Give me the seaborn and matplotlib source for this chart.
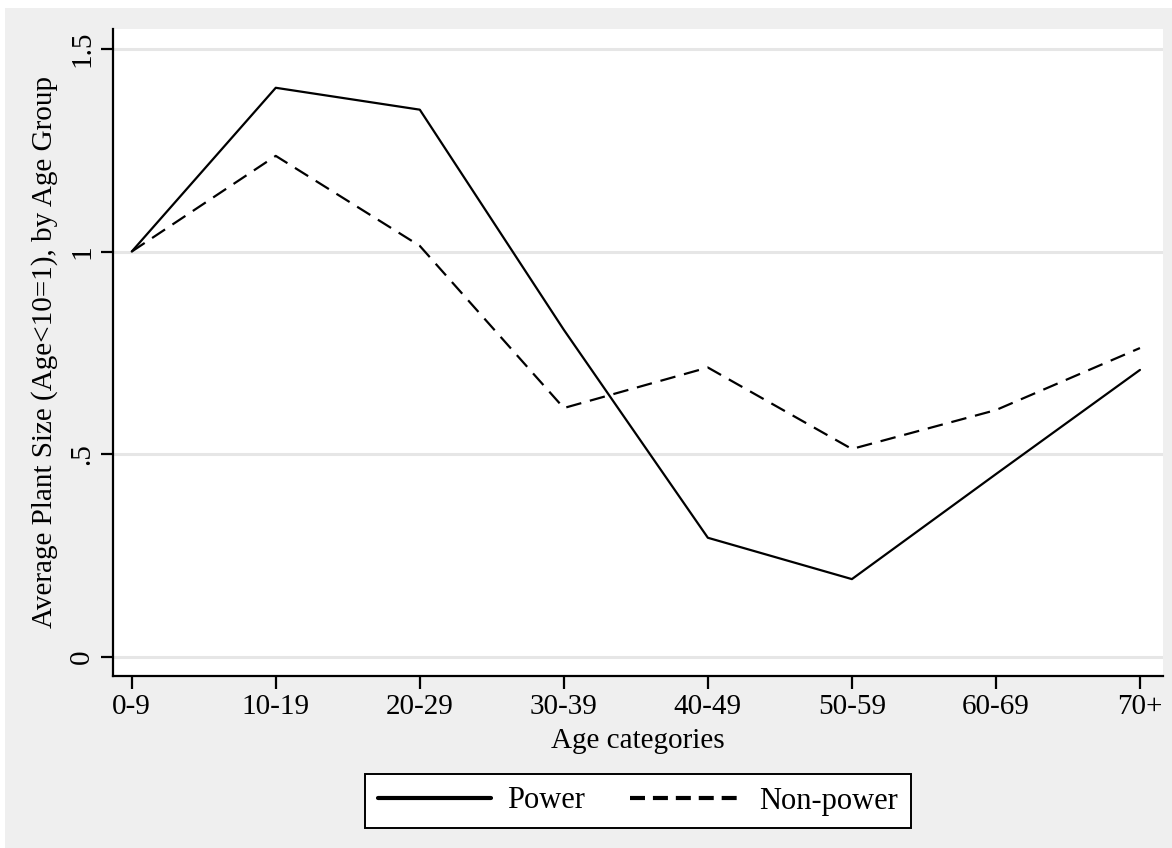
import matplotlib
matplotlib.use("Agg")
import matplotlib.pyplot as plt
from matplotlib.patches import Rectangle
from matplotlib.lines import Line2D
import seaborn as sns
import pandas as pd

# Age groups on the horizontal axis
age_groups = ["0-9", "10-19", "20-29", "30-39", "40-49", "50-59", "60-69", "70+"]

# Average plant size relative to the youngest group (Age<10 = 1)
power = [1.00, 1.404, 1.35, 0.807, 0.294, 0.192, 0.451, 0.708]
non_power = [1.00, 1.236, 1.014, 0.614, 0.714, 0.513, 0.609, 0.762]

series_names = ["Power", "Non-power"]
y_ticks = [0, 0.5, 1, 1.5]
y_tick_labels = ["0", ".5", "1", "1.5"]

pos = list(range(len(age_groups)))
df = pd.DataFrame({
    "pos": pos * 2,
    "value": power + non_power,
    "series": [series_names[0]] * len(pos) + [series_names[1]] * len(pos),
})

sns.set_theme(style="white")
plt.rcParams["font.family"] = ["Liberation Serif", "DejaVu Serif"]
plt.rcParams["text.color"] = "black"
plt.rcParams["axes.labelcolor"] = "black"

bg = "#efefef"
fig = plt.figure(figsize=(11.72, 8.48), dpi=100, facecolor="white")
fig.patches.append(Rectangle((5 / 1172, 0), 1, 1 - 8 / 848, transform=fig.transFigure,
                             facecolor=bg, edgecolor="none", zorder=-10))
ax = fig.add_axes([113 / 1172, 1 - 676 / 848, (1163 - 113) / 1172, (676 - 29) / 848])
ax.set_facecolor("white")

sns.lineplot(data=df, x="pos", y="value", style="series", style_order=series_names,
             dashes={"Power": "", "Non-power": (7, 4)}, color="black", linewidth=1.6,
             ax=ax, legend=False)

# horizontal grid lines
for t in y_ticks:
    ax.axhline(t, color="#e6e6e6", linewidth=2.2, zorder=0)

ax.set_xlim(-0.13, 7.16)
ax.set_ylim(-0.047, 1.549)
ax.set_xticks(pos)
ax.set_xticklabels(age_groups)
ax.set_yticks(y_ticks)
ax.set_yticklabels(y_tick_labels, rotation=90, va="center")

for side in ["top", "right"]:
    ax.spines[side].set_visible(False)
for side in ["left", "bottom"]:
    ax.spines[side].set_color("black")
    ax.spines[side].set_linewidth(1.6)

ax.tick_params(axis="both", which="major", direction="out", length=9, width=1.6,
               color="black", labelsize=21, labelcolor="black", pad=4,
               bottom=True, left=True)

ax.set_xlabel("Age categories", fontsize=21, color="black", labelpad=6)
ax.set_ylabel("Average Plant Size (Age<10=1), by Age Group", fontsize=21,
              color="black", labelpad=8)

handles = [Line2D([], [], color="black", linewidth=3),
           Line2D([], [], color="black", linewidth=3, dashes=(3.6, 1.9))]
leg = fig.legend(handles, series_names, loc="center", bbox_to_anchor=(638 / 1172, 1 - 801 / 848),
                 ncol=2, fontsize=22, frameon=True, fancybox=False, handlelength=3.7,
                 handletextpad=0.55, columnspacing=1.45, borderpad=0.4, borderaxespad=0)
leg.get_frame().set_edgecolor("black")
leg.get_frame().set_linewidth(1.4)
leg.get_frame().set_facecolor("white")
leg.get_frame().set_alpha(1)
for txt in leg.get_texts():
    txt.set_color("black")

fig.savefig("out.png", dpi=100, facecolor=fig.get_facecolor())
